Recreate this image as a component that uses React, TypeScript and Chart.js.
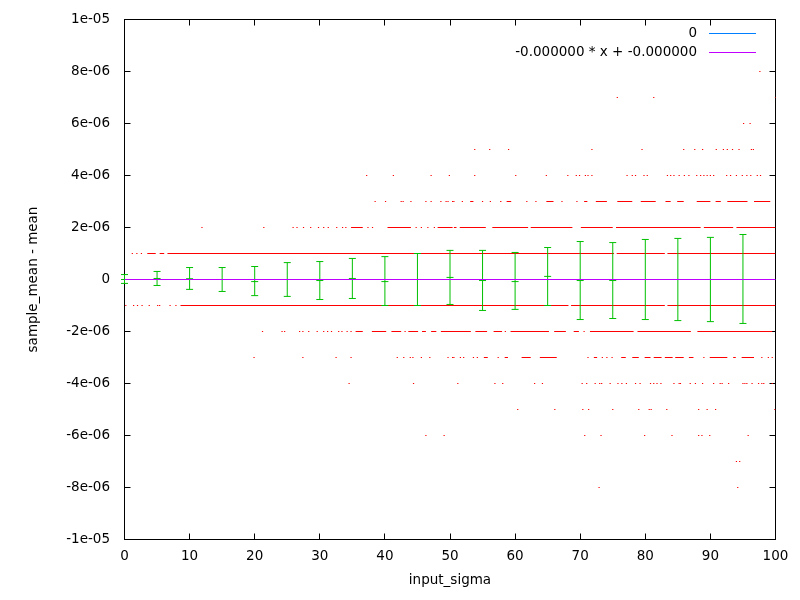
import React, { useEffect, useRef } from "react";
import Chart from "chart.js/auto";
import type { Plugin } from "chart.js";

// gnuplot-style error bar plot of (sample_mean - mean) vs input_sigma

const RED = "#ff0000";
const GREEN = "#00c000";
const BLUE = "#0080ff";
const PURPLE = "#c000ff";
const INK = "#000000";
const FONT = "DejaVu Sans";
const FONT_SIZE = 13.5;

const Y_UNIT = 1e-6; // every sample value below is a multiple of this

// error bars (y in units of 1e-6)
const ERR_X = [0, 5, 10, 15, 20, 25, 30, 35, 40, 45, 50, 55, 60, 65, 70, 75, 80, 85, 90, 95];
const ERR_MEAN = [0, 0.04, 0.03, 0, -0.08, 0, -0.04, 0.04, -0.08, 0, 0.08, -0.04, -0.08, 0.12, -0.04, -0.04, 0, 0, 0, 0];
const ERR_LOW = [-0.15, -0.23, -0.38, -0.46, -0.62, -0.65, -0.77, -0.73, -1.0, -1.0, -0.96, -1.19, -1.15, -1.0, -1.54, -1.5, -1.54, -1.58, -1.62, -1.69];
const ERR_HIGH = [0.19, 0.31, 0.46, 0.46, 0.5, 0.65, 0.69, 0.81, 0.88, 1.0, 1.12, 1.12, 1.04, 1.23, 1.46, 1.42, 1.54, 1.58, 1.62, 1.73];

// isolated sample dots per level (x = input_sigma)
const DOTS_P8 = [97.6];
const DOTS_P7 = [75.7, 81.3, 100.0];
const DOTS_P6 = [95.1, 96.1];
const DOTS_P5 = [53.8, 56.1, 59.0, 71.8, 79.5, 85.9, 87.6, 88.8, 90.9, 92.0, 92.6, 93.4, 94.4, 96.3, 96.6];
const DOTS_P4 = [37.2, 41.3, 47.1, 49.9, 53.8, 60.1, 64.8, 68.1, 69.4, 69.9, 70.8, 71.2, 71.8, 77.2, 78.0, 78.5, 79.8, 80.3, 83.4, 83.9, 84.4, 85.2, 86.0, 86.7, 87.9, 88.5, 89.0, 89.5, 90.0, 90.5, 92.5, 93.1, 94.0, 94.9, 95.6, 96.2, 97.2, 97.7];
const DOTS_P3 = [38.5, 40.1, 42.5, 42.8, 44.0, 46.3, 47.1, 48.6, 49.4, 49.7, 50.4, 50.6, 51.9, 55.0, 56.2, 61.8, 63.2, 67.2, 69.5];
const DOTS_P2 = [11.9, 21.4, 25.9, 26.5, 27.5, 28.6, 29.8, 30.6, 31.3, 32.6, 33.5, 34.0, 37.4, 38.1, 44.8, 45.6, 46.6, 47.6];
const DOTS_P1 = [1.2, 1.9, 2.6];
const DOTS_M1 = [0.2, 1.4, 2.0, 2.7, 3.8, 5.1, 5.4, 7.0, 7.9];
const DOTS_M2 = [21.2, 24.2, 24.6, 26.9, 27.4, 28.3, 29.6, 30.6, 31.2, 31.8, 32.9, 33.4, 34.2, 34.8, 43.1, 58.5, 70.6];
const DOTS_M3 = [19.9, 27.4, 32.5, 34.8, 41.9, 42.9, 43.9, 44.3, 45.6, 46.9, 49.7, 50.4, 50.6, 51.6, 52.1, 53.6, 54.2, 57.4, 71.2, 73.4, 74.1, 74.9, 89.0, 97.9, 98.9, 99.5];
const DOTS_M4 = [34.5, 44.4, 51.2, 56.9, 58.1, 63.0, 64.2, 70.3, 71.0, 72.3, 73.0, 73.3, 74.6, 75.8, 76.4, 77.1, 78.5, 79.2, 80.8, 81.3, 81.8, 82.4, 84.4, 85.2, 85.4, 86.9, 87.7, 88.8, 90.5, 91.5, 91.8, 92.8, 95.0, 95.3, 95.6, 96.4, 97.4, 97.9, 98.2, 99.5];
const DOTS_M5 = [60.4, 66.1, 70.4, 71.3, 75.0, 79.0, 80.6, 80.9, 83.3, 88.2, 89.5, 90.8, 99.9];
const DOTS_M6 = [46.3, 49.1, 70.7, 73.2, 79.9, 84.1, 88.2, 88.7, 89.9, 95.8];
const DOTS_M7 = [94.0, 94.5];
const DOTS_M8 = [72.9, 94.2];

// dense runs of samples per level, [from, to]
const RUNS_P3: [number, number][] = [[53.1, 53.6], [57.7, 57.9], [58.7, 59.4], [64.8, 65.9], [70.6, 71.1], [72.4, 74.1], [75.7, 78.0], [79.3, 81.6], [83.1, 83.9], [84.9, 85.9], [87.9, 90.0], [90.8, 91.6], [92.6, 95.7], [96.7, 99.2]];
const RUNS_P2: [number, number][] = [[34.8, 36.6], [40.4, 44.0], [48.1, 50.4], [50.6, 51.0], [51.5, 55.5], [56.5, 62.0], [62.4, 68.8], [70.1, 75.0], [75.5, 88.5], [89.0, 93.5], [94.0, 100]];
const RUNS_P1: [number, number][] = [[3.5, 4.8], [5.4, 6.1], [6.6, 75.2], [75.6, 83.0], [83.4, 100]];
const RUNS_M1: [number, number][] = [[8.6, 68.2], [68.6, 83.0], [83.4, 100]];
const RUNS_M2: [number, number][] = [[35.5, 36.6], [38.0, 40.2], [41.0, 42.5], [43.6, 45.1], [45.7, 46.3], [47.1, 47.9], [48.6, 53.2], [53.9, 55.7], [56.7, 58.0], [59.3, 65.2], [66.0, 67.8], [69.0, 69.8], [71.5, 78.2], [78.8, 87.0], [88.0, 99.5]];
const RUNS_M3: [number, number][] = [[55.2, 55.8], [58.4, 58.9], [61.0, 62.4], [63.8, 66.4], [72.1, 72.6], [76.3, 77.0], [78.0, 79.0], [79.9, 80.8], [81.3, 82.5], [83.0, 84.2], [84.6, 85.9], [86.7, 87.4], [89.9, 92.6], [93.5, 93.9], [94.8, 96.7]];

const DOT_LEVELS: [number, number[]][] = [
  [8, DOTS_P8], [7, DOTS_P7], [6, DOTS_P6], [5, DOTS_P5], [4, DOTS_P4], [3, DOTS_P3], [2, DOTS_P2], [1, DOTS_P1],
  [-1, DOTS_M1], [-2, DOTS_M2], [-3, DOTS_M3], [-4, DOTS_M4], [-5, DOTS_M5], [-6, DOTS_M6], [-7, DOTS_M7], [-8, DOTS_M8],
];
const RUN_LEVELS: [number, [number, number][]][] = [
  [3, RUNS_P3], [2, RUNS_P2], [1, RUNS_P1], [-1, RUNS_M1], [-2, RUNS_M2], [-3, RUNS_M3],
];

// reference line and linear fit
const LINE_X = [0, 100];
const ZERO_Y = [0, 0];
const FIT_A = -2e-12;
const FIT_B = -4e-10;
const LEGEND_ZERO = "0";
const LEGEND_FIT = "-0.000000 * x + -0.000000";

const X_TITLE = "input_sigma";
const Y_TITLE = "sample_mean - mean";

function fmtY(v: number) {
  if (Math.abs(v) < 1e-12) return "0";
  const [m, e] = v.toExponential(0).split("e");
  const n = parseInt(e, 10);
  return `${m}e${n < 0 ? "-" : "+"}${String(Math.abs(n)).padStart(2, "0")}`;
}

const snap = (p: number) => Math.round(p - 0.5) + 0.5;

export default function App() {
  const canvasRef = useRef<HTMLCanvasElement | null>(null);

  useEffect(() => {
    const ctx = canvasRef.current?.getContext("2d");
    if (!ctx) return;

    const dots = DOT_LEVELS.flatMap(([lvl, xs]) => xs.map((x) => ({ x, y: lvl * Y_UNIT })));
    const runs = RUN_LEVELS.flatMap(([lvl, segs]) =>
      segs.flatMap(([a, b]) => [
        { x: a, y: lvl * Y_UNIT },
        { x: b, y: lvl * Y_UNIT },
        { x: b, y: null as number | null },
      ])
    );
    const bars = ERR_X.flatMap((x, i) => [
      { x, y: ERR_LOW[i] * Y_UNIT },
      { x, y: ERR_HIGH[i] * Y_UNIT },
      { x, y: null as number | null },
    ]);
    const caps = ERR_X.flatMap((x, i) => [
      { x, y: ERR_LOW[i] * Y_UNIT },
      { x, y: ERR_HIGH[i] * Y_UNIT },
      { x, y: ERR_MEAN[i] * Y_UNIT },
    ]);
    const zero = LINE_X.map((x, i) => ({ x, y: ZERO_Y[i] }));
    const fit = LINE_X.map((x) => ({ x, y: FIT_A * x + FIT_B }));

    // border, inward mirrored ticks, axis titles and key
    const frame: Plugin<"scatter"> = {
      id: "gnuplotFrame",
      beforeDatasetsDraw(c) {
        const { ctx, chartArea } = c;
        const { left, right, top, bottom } = chartArea;
        const xs: any = c.scales.x;
        const ys: any = c.scales.y;
        ctx.save();
        ctx.strokeStyle = INK;
        ctx.lineWidth = 1;
        ctx.beginPath();
        xs.ticks.forEach((t: any) => {
          const px = snap(xs.getPixelForValue(t.value));
          ctx.moveTo(px, bottom);
          ctx.lineTo(px, bottom - 6);
          ctx.moveTo(px, top);
          ctx.lineTo(px, top + 6);
        });
        ys.ticks.forEach((t: any) => {
          const py = snap(ys.getPixelForValue(t.value));
          ctx.moveTo(left, py);
          ctx.lineTo(left + 6, py);
          ctx.moveTo(right, py);
          ctx.lineTo(right - 6, py);
        });
        ctx.stroke();
        ctx.strokeRect(left, top, right - left, bottom - top);
        ctx.restore();
      },
      afterDraw(c) {
        const { ctx, chartArea } = c;
        const { left, right, top, bottom } = chartArea;
        ctx.save();
        ctx.fillStyle = INK;
        ctx.font = `${FONT_SIZE}px "${FONT}"`;
        ctx.textBaseline = "middle";
        ctx.textAlign = "center";
        ctx.fillText(X_TITLE, (left + right) / 2, 580);
        ctx.save();
        ctx.translate(33, (top + bottom) / 2);
        ctx.rotate(-Math.PI / 2);
        ctx.fillText(Y_TITLE, 0, 0);
        ctx.restore();

        const key = [
          { label: c.data.datasets[1].label as string, color: BLUE },
          { label: c.data.datasets[0].label as string, color: PURPLE },
        ];
        ctx.textAlign = "right";
        key.forEach((k, i) => {
          const y = 33.5 + i * 19;
          ctx.fillStyle = INK;
          ctx.fillText(k.label, 697, y);
          ctx.strokeStyle = k.color;
          ctx.lineWidth = 1;
          ctx.beginPath();
          ctx.moveTo(709, y);
          ctx.lineTo(756, y);
          ctx.stroke();
        });
        ctx.restore();
      },
    };

    const chart = new Chart(ctx, {
      type: "scatter",
      data: {
        datasets: [
          {
            type: "line",
            label: LEGEND_FIT,
            data: fit,
            borderColor: PURPLE,
            borderWidth: 1,
            pointRadius: 0,
          },
          {
            type: "line",
            label: LEGEND_ZERO,
            data: zero,
            borderColor: BLUE,
            borderWidth: 1,
            pointRadius: 0,
          },
          {
            label: "caps",
            data: caps,
            pointStyle: "line",
            pointRadius: 3.5,
            borderColor: GREEN,
            borderWidth: 1,
            clip: false,
          },
          {
            type: "line",
            label: "bars",
            data: bars as any,
            borderColor: GREEN,
            borderWidth: 1,
            pointRadius: 0,
            spanGaps: false,
            clip: false,
          },
          {
            type: "line",
            label: "runs",
            data: runs as any,
            borderColor: RED,
            borderWidth: 1,
            pointRadius: 0,
            spanGaps: false,
          },
          {
            label: "dots",
            data: dots,
            pointStyle: "rect",
            pointRadius: 0.85,
            backgroundColor: RED,
            borderWidth: 0,
          },
        ],
      },
      options: {
        animation: false,
        responsive: false,
        events: [],
        layout: { padding: { top: 19.5, right: 24.5, left: 0, bottom: 0 } },
        scales: {
          x: {
            type: "linear",
            min: 0,
            max: 100,
            afterFit: (s: any) => {
              s.height = 60.5;
              s.paddingLeft = 0;
              s.paddingRight = 0;
            },
            grid: { display: false, drawTicks: false },
            border: { display: false },
            ticks: {
              stepSize: 10,
              padding: 9,
              color: INK,
              font: { family: FONT, size: FONT_SIZE },
              callback: (v: any) => String(v),
            },
          },
          y: {
            type: "linear",
            min: -1e-5,
            max: 1e-5,
            afterFit: (s: any) => {
              s.width = 124.5;
              s.paddingTop = 0;
              s.paddingBottom = 0;
            },
            grid: { display: false, drawTicks: false },
            border: { display: false },
            ticks: {
              stepSize: 2e-6,
              padding: 14.5,
              color: INK,
              font: { family: FONT, size: FONT_SIZE },
              callback: (v: any) => fmtY(Number(v)),
            },
          },
        },
        plugins: {
          legend: { display: false },
          tooltip: { enabled: false },
          title: { display: false },
        },
      },
      plugins: [frame],
    });

    return () => {
      chart.destroy();
    };
  }, []);

  return (
    <div style={{ position: "absolute", left: 0, top: 0, width: 800, height: 600, background: "#fff" }}>
      <canvas ref={canvasRef} width={800} height={600} style={{ display: "block" }} />
    </div>
  );
}
